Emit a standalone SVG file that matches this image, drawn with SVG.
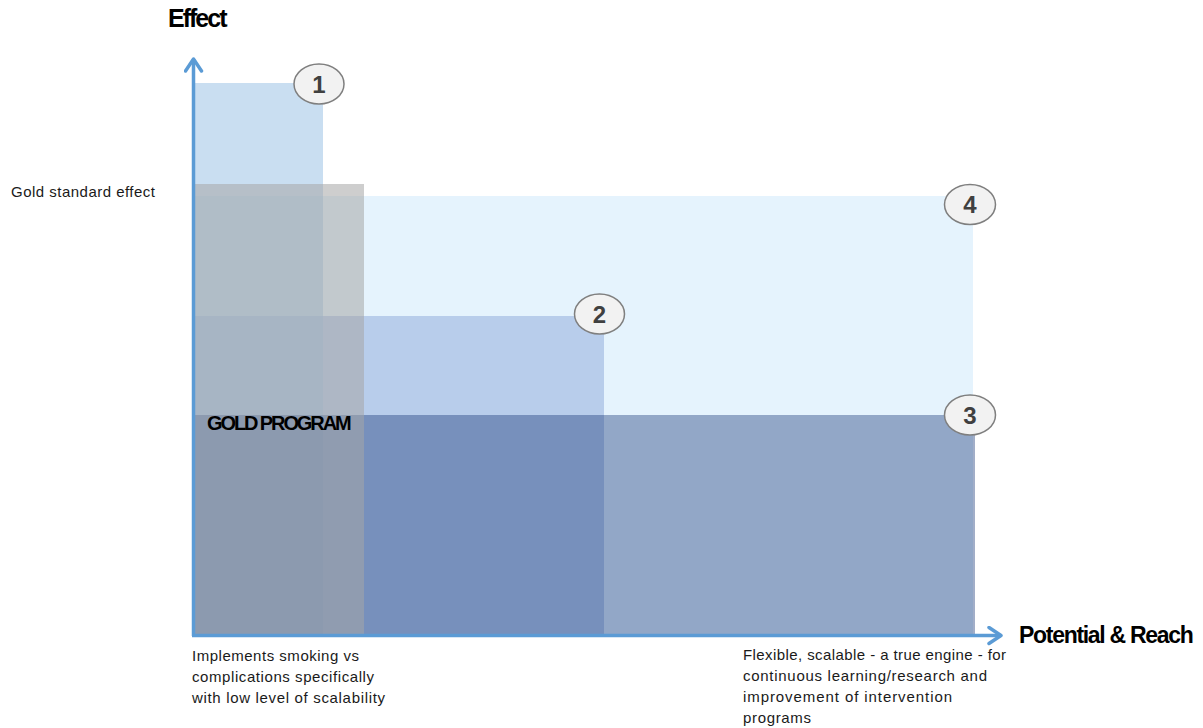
<svg xmlns="http://www.w3.org/2000/svg" width="1203" height="728" viewBox="0 0 1203 728">
<style>
.axis{stroke:#5b9bd5;stroke-width:3.5;fill:none}
.badge{fill:#f2f2f2;stroke:#7f7f7f;stroke-width:1.5}
.num{font-family:"Liberation Sans",Arial,sans-serif;font-weight:bold;font-size:24px;fill:#404040;text-anchor:middle}
.title{font-family:"Liberation Sans",Arial,sans-serif;font-weight:bold;fill:#000}
.note{font-family:"Liberation Sans",Arial,sans-serif;font-size:15px;fill:#1a1a1a}
</style>
<defs>
<marker id="chev" viewBox="0 0 20 20" markerUnits="userSpaceOnUse" markerWidth="20" markerHeight="20" refX="15" refY="10" orient="auto">
<path d="M3,2 L15,10 L3,18" fill="none" stroke="#5b9bd5" stroke-width="3.5" stroke-linejoin="round" stroke-linecap="round"/>
</marker>
</defs>
<rect width="1203" height="728" fill="#fff"/>
<g id="area4"><rect x="194" y="196" width="779" height="438" fill="#e5f3fd"/></g>
<g id="area2"><rect x="194" y="316" width="410" height="318" fill="#b8cdeb"/></g>
<g id="area1"><rect x="194" y="83" width="129" height="551" fill="#9dc3e6" fill-opacity="0.55"/></g>
<g id="area3"><rect x="194" y="415" width="781" height="219" fill="#163576" fill-opacity="0.4"/></g>
<g id="gold-program">
<rect x="194" y="184" width="170" height="450" fill="#a5a5a5" fill-opacity="0.55"/>
<text class="title" x="207" y="430" font-size="20" letter-spacing="-2.1">GOLD PROGRAM</text>
</g>
<g id="connectors">
<line class="axis" x1="193.5" y1="636" x2="193.5" y2="59" marker-end="url(#chev)"/>
<line class="axis" x1="192" y1="635.5" x2="1001" y2="635.5" marker-end="url(#chev)"/>
</g>
<g id="badge1"><ellipse class="badge" cx="319" cy="84" rx="25" ry="20"/><text class="num" x="319" y="92.5">1</text></g>
<g id="badge2"><ellipse class="badge" cx="599.5" cy="314" rx="25" ry="20"/><text class="num" x="599.5" y="322.5">2</text></g>
<g id="badge4"><ellipse class="badge" cx="970" cy="204.5" rx="25.5" ry="20"/><text class="num" x="970" y="213">4</text></g>
<g id="badge3"><ellipse class="badge" cx="970" cy="415" rx="25.5" ry="20"/><text class="num" x="970" y="423.5">3</text></g>
<g id="labels">
<text class="title" x="168" y="27" font-size="25" letter-spacing="-2">Effect</text>
<text class="title" x="1019" y="643" font-size="23" letter-spacing="-1.3">Potential &amp; Reach</text>
<text class="note" x="11" y="197" textLength="144" lengthAdjust="spacing">Gold standard effect</text>
<text class="note" x="192" y="661" textLength="167" lengthAdjust="spacing">Implements smoking vs</text>
<text class="note" x="192" y="682" textLength="182" lengthAdjust="spacing">complications specifically</text>
<text class="note" x="192" y="703" textLength="193" lengthAdjust="spacing">with low level of scalability</text>
<text class="note" x="743" y="660" textLength="263" lengthAdjust="spacing">Flexible, scalable - a true engine - for</text>
<text class="note" x="743" y="681" textLength="244" lengthAdjust="spacing">continuous learning/research and</text>
<text class="note" x="743" y="702" textLength="209" lengthAdjust="spacing">improvement of intervention</text>
<text class="note" x="743" y="723" textLength="68" lengthAdjust="spacing">programs</text>
</g>
</svg>
